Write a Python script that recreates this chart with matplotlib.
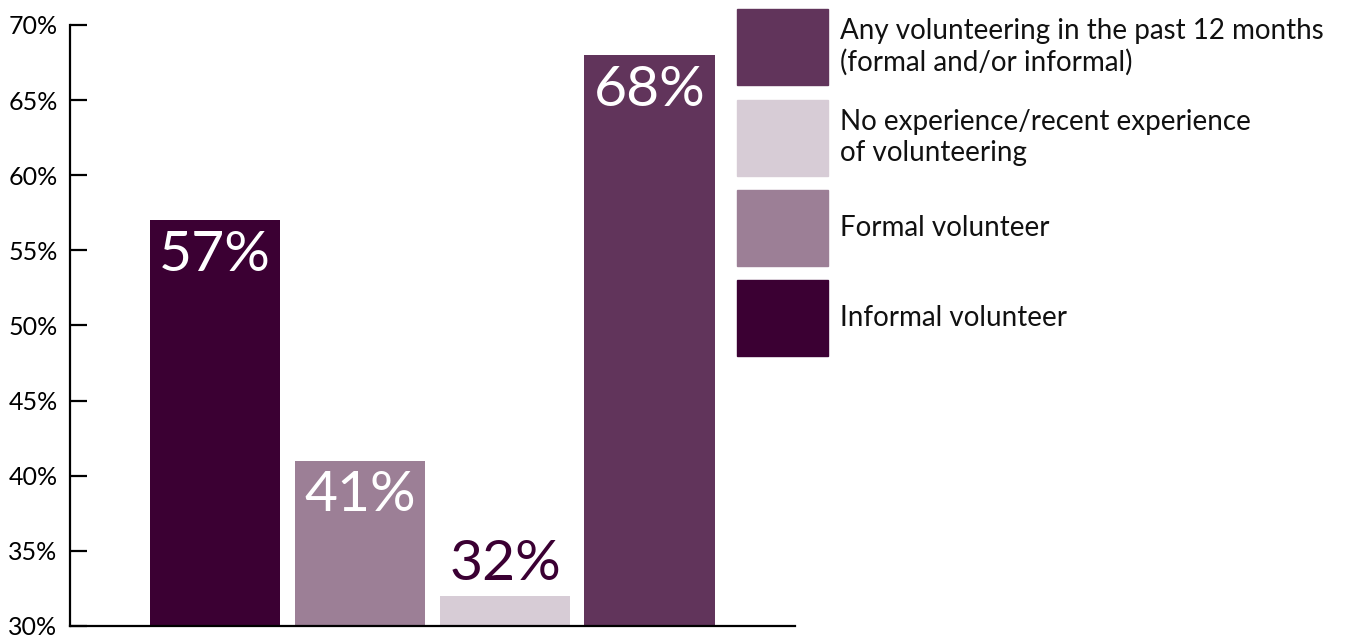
import matplotlib.pyplot as plt
from matplotlib.patches import Rectangle

plt.rcParams['font.family'] = ['Lato', 'DejaVu Sans']

categories = ['Informal volunteer', 'Formal volunteer',
              'No experience/recent experience\nof volunteering',
              'Any volunteering in the past 12 months\n(formal and/or informal)']
values = [57, 41, 32, 68]
colors = ['#3b0033', '#9c7f96', '#d7ccd6', '#61345b']
label_colors = ['white', 'white', '#3b0033', 'white']
y_ticks = [30, 35, 40, 45, 50, 55, 60, 65, 70]
legend_order = [3, 2, 1, 0]

fig = plt.figure(figsize=(13.57, 6.37), dpi=100)
ax = fig.add_axes([0.0516, 0.0173, 0.5342, 0.9435])

x = range(len(values))
bars = ax.bar(x, [v - 30 for v in values], bottom=30, width=0.903, color=colors)

for i, (b, v) in enumerate(zip(bars, values)):
    cx = b.get_x() + b.get_width() / 2
    if label_colors[i] == 'white':
        ax.annotate(f'{v}%', (cx, v), xytext=(0, -7), textcoords='offset points',
                    ha='center', va='top', fontsize=41, color='white')
    else:
        ax.annotate(f'{v}%', (cx, v), xytext=(0, 4), textcoords='offset points',
                    ha='center', va='bottom', fontsize=41, color=label_colors[i])

ax.set_xlim(-1, 4)
ax.set_ylim(30, 70)
ax.set_yticks(y_ticks)
ax.set_yticklabels([f'{t}%' for t in y_ticks])
ax.set_xticks([])
ax.tick_params(axis='y', direction='in', length=12, width=1.6, pad=9, labelsize=18)
for s in ['top', 'right']:
    ax.spines[s].set_visible(False)
ax.spines['left'].set_linewidth(1.6)
ax.spines['bottom'].set_linewidth(1.6)

# legend drawn as big swatches in figure pixels
W, H = 1357, 637
for row, idx in enumerate(legend_order):
    top = 9 + row * 90.5
    fig.patches.append(Rectangle((737 / W, 1 - (top + 76) / H), 91 / W, 76 / H,
                                 transform=fig.transFigure, color=colors[idx]))
    fig.text(840 / W, 1 - (top + 38) / H, categories[idx], ha='left', va='center',
             fontsize=20, linespacing=1.2, color='#111111')

fig.savefig('out.png', dpi=100)
